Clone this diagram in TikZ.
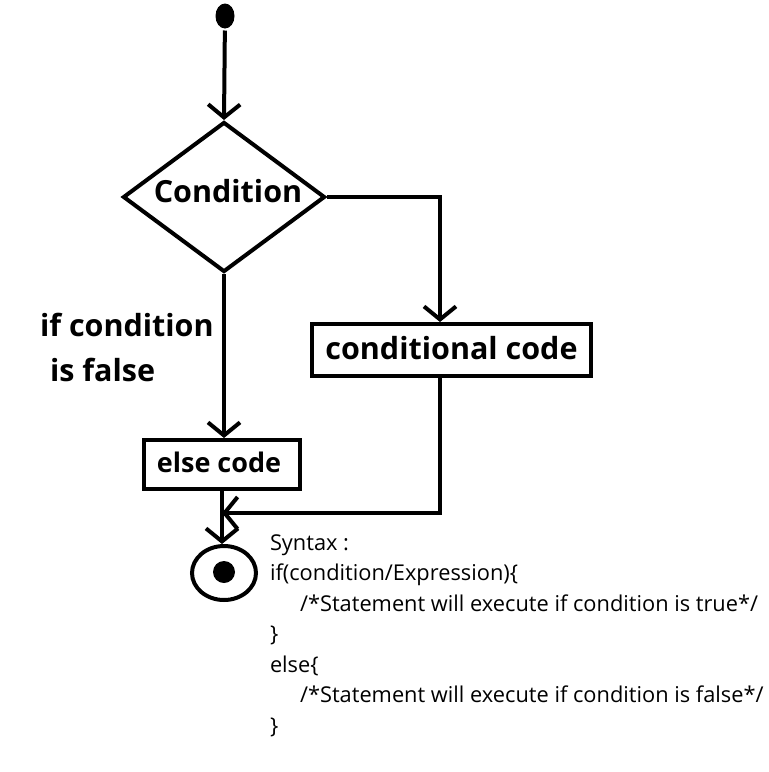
\documentclass[tikz,border=0pt]{standalone}
\usepackage{fontspec}
\setmainfont{Open Sans}
\usetikzlibrary{arrows.meta,shapes.geometric}
\begin{document}
\begin{tikzpicture}[x=1pt,y=-1pt,line width=4pt,
  arr/.style={-{Straight Barb[length=13pt,width=32pt]}},
  box/.style={draw,rectangle,inner sep=0pt},
  big/.style={font=\fontsize{30.5}{36}\selectfont\bfseries},
  mid/.style={font=\fontsize{27}{32}\selectfont\bfseries},
  code/.style={font=\fontsize{21.8}{30.5}\selectfont, anchor=base west, inner sep=0pt}]
\useasboundingbox (0,0) rectangle (769,772);
\node[ellipse,fill,minimum width=19pt,minimum height=25pt,inner sep=0pt] (start) at (225,16) {};
\node[diamond,draw,minimum width=202pt,minimum height=150pt,inner sep=0pt] (cond) at (224,197) {};
\node[big,inner sep=0pt] (condtext) at (228,191) {Condition};
\node[box,minimum width=279pt,minimum height=52pt] (cc) at (451.5,350) {};
\node[big,inner sep=0pt] (cctext) at (451.5,348) {conditional code};
\node[box,minimum width=156pt,minimum height=49pt] (eb) at (222,464.5) {};
\node[mid,inner sep=0pt] (ebtext) at (219,462) {else code};
\node[ellipse,draw,minimum width=64pt,minimum height=54pt,inner sep=0pt] (endc) at (224,573) {};
\node[circle,fill,minimum size=22pt,inner sep=0pt] (enddot) at (224,572) {};
\coordinate (merge) at (222,513);
\node[big,anchor=west,inner sep=0pt] (lab1) at (38,325) {if condition};
\node[big,anchor=west,inner sep=0pt] (lab2) at (48,370) {is false};
\draw[arr] (start) -- (cond.north);
\draw[arr] (cond.east) -| ([xshift=-11.5pt]cc.north);
\draw[arr] ([xshift=-11.5pt]cc.south) |- (merge);
\draw[arr] (cond.south) -- (cond.south |- eb.north);
\draw[arr] (eb.south) -- (eb.south |- endc.north);
\node[code] (s1) at (268,550) {Syntax :};
\node[code] (s2) at (268,580.5) {if(condition/Expression)\{};
\node[code] (s3) at (298,611) {/*Statement will execute if condition is true*/};
\node[code] (s4) at (268,641.5) {\}};
\node[code] (s5) at (268,672) {else\{};
\node[code] (s6) at (298,702.5) {/*Statement will execute if condition is false*/};
\node[code] (s7) at (268,733) {\}};
\end{tikzpicture}
\end{document}
